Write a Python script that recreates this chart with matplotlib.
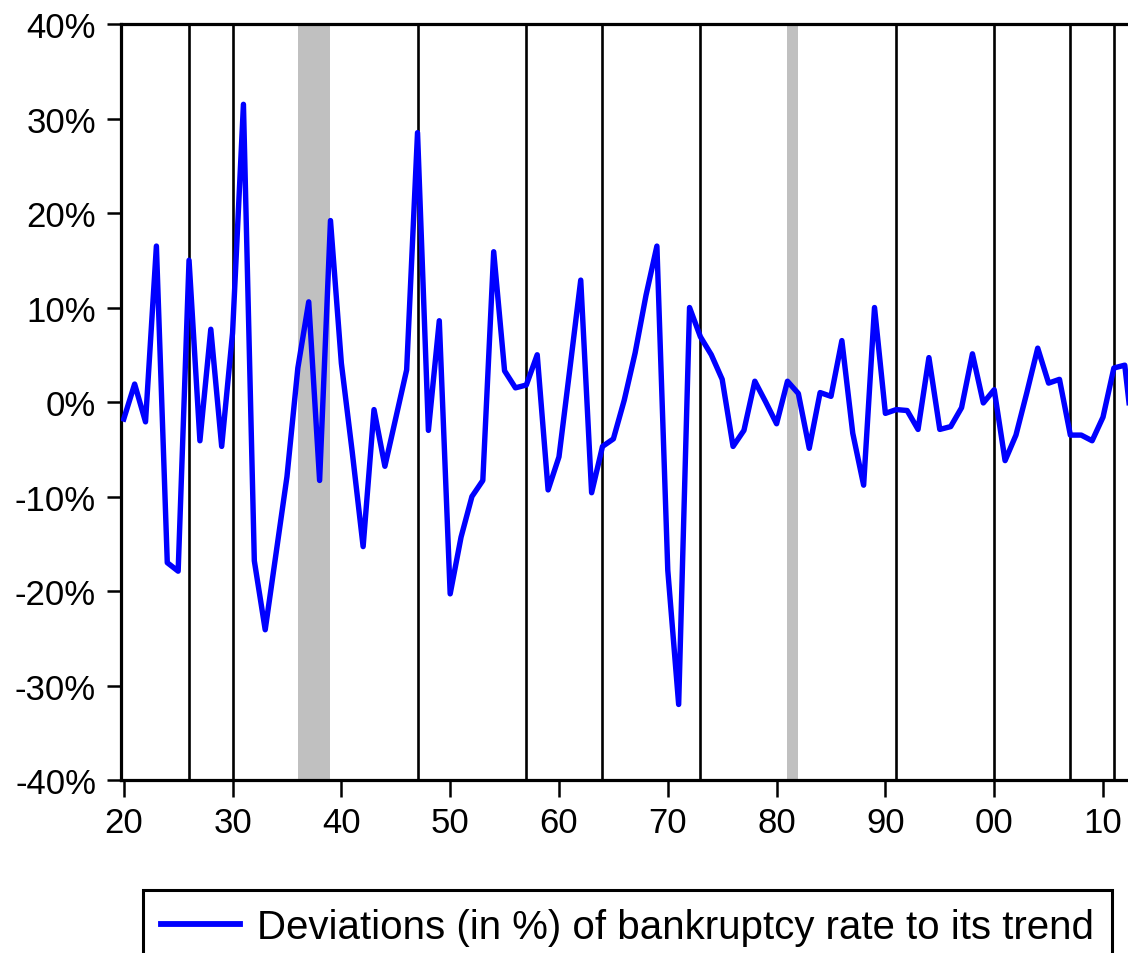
import matplotlib
matplotlib.use("Agg")
import matplotlib.pyplot as plt
from matplotlib.ticker import FuncFormatter

plt.rcParams['font.family'] = ['Liberation Sans', 'DejaVu Sans']

# annual deviations of the bankruptcy rate from trend, in %
years = list(range(1920, 2014))
deviation = [
    -1.8, 1.9, -2.1, 16.5, -17.0, -17.9, 15.0, -4.1, 7.7, -4.7,
    7.3, 31.5, -16.8, -24.1, -16.0, -7.9, 3.6, 10.6, -8.3, 19.2,
    4.1, -5.3, -15.3, -0.8, -6.8, -1.7, 3.4, 28.5, -3.0, 8.6,
    -20.3, -14.3, -10.0, -8.3, 15.9, 3.3, 1.5, 1.8, 5.0, -9.3,
    -5.8, 3.5, 12.9, -9.6, -4.7, -3.9, 0.2, 5.2, 11.3, 16.5,
    -17.8, -32.0, 10.0, 6.9, 5.0, 2.4, -4.7, -3.0, 2.2, 0.0,
    -2.3, 2.2, 0.9, -4.9, 1.0, 0.6, 6.5, -3.3, -8.8, 10.0,
    -1.2, -0.8, -0.9, -2.9, 4.7, -2.9, -2.6, -0.6, 5.1, -0.1,
    1.3, -6.2, -3.5, 1.0, 5.7, 2.0, 2.4, -3.5, -3.5, -4.1,
    -1.6, 3.6, 3.9, -6.3,
]

event_years = [1926, 1930, 1947, 1957, 1964, 1973, 1991, 2000, 2007, 2011]
shaded_periods = [(1936, 1939), (1981, 1982)]

x_ticks = list(range(1920, 2020, 10))
x_tick_labels = ['20', '30', '40', '50', '60', '70', '80', '90', '00', '10']
y_ticks = list(range(-40, 50, 10))

fig = plt.figure(figsize=(11.28, 9.54), dpi=100)
# axes run past the right edge of the figure
ax = fig.add_axes([0.1073, 0.1813, 0.9043, 0.7925])

for start, end in shaded_periods:
    ax.axvspan(start, end, color='#c0c0c0', lw=0, zorder=1)
for yr in event_years:
    ax.axvline(yr, color='black', lw=1.9, zorder=2)

ax.plot(years, deviation, color='#0000ff', lw=3.9, zorder=3,
        label='Deviations (in %) of bankruptcy rate to its trend')

ax.set_xlim(1919.75, 2013.5)
ax.set_ylim(-40, 40)
ax.set_xticks(x_ticks)
ax.set_xticklabels(x_tick_labels)
ax.set_yticks(y_ticks)
ax.yaxis.set_major_formatter(FuncFormatter(lambda v, p: f"{v:.0f}%"))

for side in ['left', 'top', 'bottom', 'right']:
    ax.spines[side].set_linewidth(2.3)
ax.tick_params(axis='y', direction='out', length=10, width=1.8,
               pad=8, labelsize=25)
ax.tick_params(axis='x', direction='out', length=12, width=1.8,
               pad=7, labelsize=25)

leg = ax.legend(loc='upper left', bbox_to_anchor=(143 / 1128, 1 - 891 / 954),
                bbox_transform=fig.transFigure, borderaxespad=0,
                fontsize=29, frameon=True, fancybox=False, framealpha=1,
                edgecolor='black', handlelength=1.95, handletextpad=0.42,
                borderpad=0.45)
leg.get_frame().set_linewidth(2.2)
leg.get_lines()[0].set_linewidth(4.2)

fig.savefig('out.png', dpi=100)
